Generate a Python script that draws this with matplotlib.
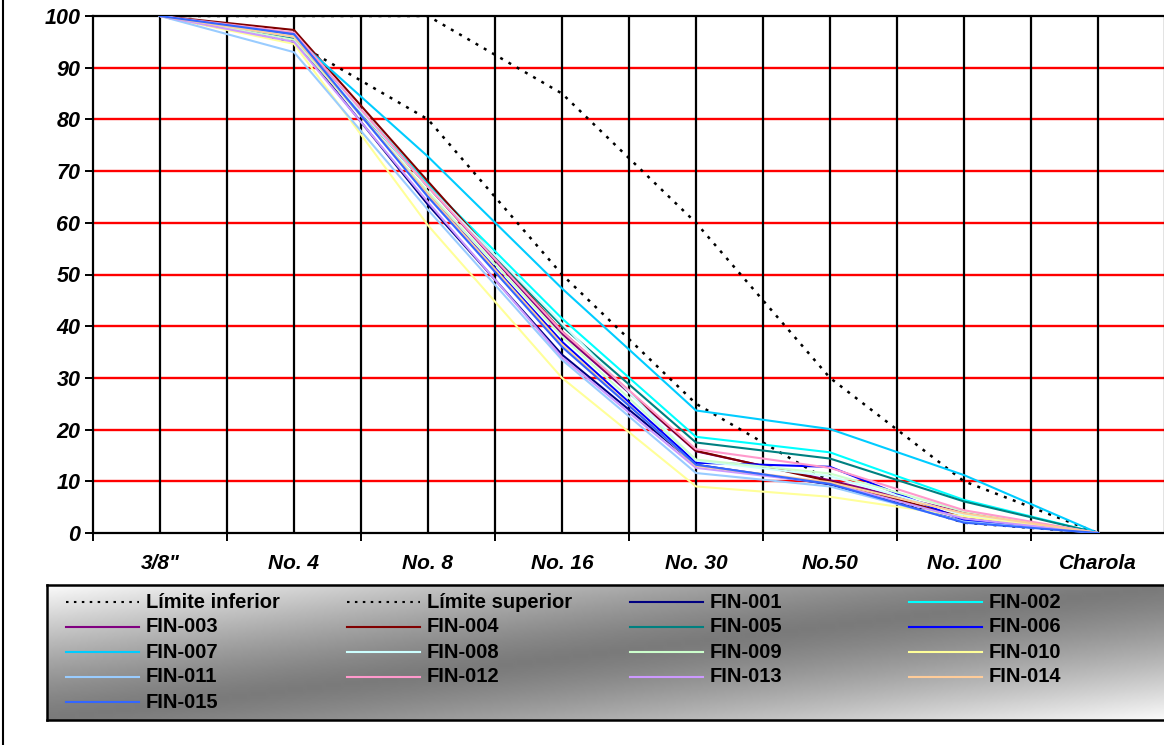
import numpy as np
import matplotlib
matplotlib.use('Agg')
import matplotlib.pyplot as plt
from matplotlib.lines import Line2D

plt.rcParams['font.family'] = ['Liberation Sans', 'DejaVu Sans']

# ---------------- data ----------------
categories = ['3/8"', 'No. 4', 'No. 8', 'No. 16', 'No. 30', 'No.50', 'No. 100', 'Charola']
y_ticks = [0, 10, 20, 30, 40, 50, 60, 70, 80, 90, 100]

limite_inferior = [100, 95, 80, 50, 25, 10, 2, 0]
limite_superior = [100, 100, 100, 85, 60, 30, 10, 0]

fin_001 = [100, 95.5, 63.5, 34.5, 13.2, 9.4, 2.2, 0]
fin_002 = [100, 96.0, 67.5, 41.5, 18.6, 15.6, 6.4, 0]
fin_003 = [100, 96.5, 67.0, 38.5, 15.8, 10.2, 3.9, 0]
fin_004 = [100, 97.3, 68.0, 39.0, 15.9, 10.0, 3.0, 0]
fin_005 = [100, 95.8, 67.0, 40.0, 17.5, 14.4, 6.1, 0]
fin_006 = [100, 96.0, 65.5, 37.0, 13.6, 12.8, 2.5, 0]
fin_007 = [100, 96.0, 72.8, 47.3, 23.7, 20.1, 11.2, 0]
fin_008 = [100, 96.0, 67.0, 40.5, 14.0, 11.0, 3.5, 0]
fin_009 = [100, 95.4, 66.0, 38.0, 14.2, 11.5, 4.2, 0]
fin_010 = [100, 94.6, 59.5, 30.0, 9.0, 7.0, 3.2, 0]
fin_011 = [100, 93.0, 62.5, 33.5, 11.6, 9.0, 2.2, 0]
fin_012 = [100, 96.8, 67.0, 39.0, 16.2, 12.6, 4.4, 0]
fin_013 = [100, 95.0, 64.0, 34.0, 12.6, 9.6, 2.8, 0]
fin_014 = [100, 96.0, 65.5, 36.5, 13.0, 9.8, 3.8, 0]
fin_015 = [100, 96.5, 65.0, 36.0, 13.2, 9.5, 2.0, 0]

series_names = ['FIN-001', 'FIN-002', 'FIN-003', 'FIN-004', 'FIN-005', 'FIN-006', 'FIN-007',
                'FIN-008', 'FIN-009', 'FIN-010', 'FIN-011', 'FIN-012', 'FIN-013', 'FIN-014', 'FIN-015']
series_values = [fin_001, fin_002, fin_003, fin_004, fin_005, fin_006, fin_007, fin_008,
                 fin_009, fin_010, fin_011, fin_012, fin_013, fin_014, fin_015]
series_colors = ['#000080', '#00FFFF', '#800080', '#800000', '#008080', '#0000FF', '#00CCFF',
                 '#CCFFFF', '#CCFFCC', '#FFFF99', '#99CCFF', '#FF99CC', '#CC99FF', '#FFCC99', '#3366FF']

# ---------------- figure ----------------
W, H = 1164, 745
fig = plt.figure(figsize=(W / 100, H / 100), dpi=100)
fig.patch.set_facecolor('white')

ax_l, ax_r, ax_t, ax_b = 93, 1165, 16, 533
ax = fig.add_axes([ax_l / W, 1 - ax_b / H, (ax_r - ax_l) / W, (ax_b - ax_t) / H])
x = np.arange(len(categories))
ax.set_xlim(-0.5, len(categories) - 0.5)
ax.set_ylim(0, 100)

# grid
for yv in y_ticks[1:-1]:
    ax.axhline(yv, color='#FF0000', lw=1.7, zorder=1)
for xv in np.arange(0, len(categories) - 0.25, 0.5):
    ax.axvline(xv, color='black', lw=1.6, zorder=1)

for s in ax.spines.values():
    s.set_color('black')
    s.set_linewidth(1.6)
ax.spines['right'].set_visible(False)

# limits
dotted = (0, (1.2, 2.6))
ax.plot(x, limite_inferior, color='black', lw=1.8, linestyle=dotted, zorder=3)
ax.plot(x, limite_superior, color='black', lw=1.8, linestyle=dotted, zorder=3)
for vals, c in zip(series_values, series_colors):
    ax.plot(x, vals, color=c, lw=1.5, zorder=4)

ax.set_yticks(y_ticks)
ax.set_yticklabels([str(v) for v in y_ticks], fontsize=15.5, fontweight='bold', fontstyle='italic')
ax.tick_params(axis='y', length=6, width=1.4, pad=3)

ax.set_xticks(x)
ax.set_xticklabels(categories, fontsize=15, fontweight='bold', fontstyle='italic')
ax.set_xticks(np.arange(-0.5, len(categories), 1.0), minor=True)
ax.tick_params(axis='x', which='major', length=0, pad=15)
ax.tick_params(axis='x', which='minor', length=6, width=1.4)

# ---------------- legend ----------------
lg_l, lg_r, lg_t, lg_b = 47, 1170, 585, 720
lax = fig.add_axes([lg_l / W, 1 - lg_b / H, (lg_r - lg_l) / W, (lg_b - lg_t) / H])
lax.set_xlim(lg_l, lg_r)
lax.set_ylim(lg_b, lg_t)
u = np.linspace(0, 1, 300)
v = np.linspace(0, 1, 60)
t = (u[None, :] + v[:, None]) / 2.0
grad = 0.48 + 0.50 * np.abs(2 * t - 1) ** 1.3
lax.imshow(grad, cmap='gray', vmin=0, vmax=1, aspect='auto',
           extent=[lg_l, lg_r, lg_b, lg_t], interpolation='bilinear', zorder=0)
lax.set_xticks([])
lax.set_yticks([])
for s in lax.spines.values():
    s.set_color('black')
    s.set_linewidth(1.8)

legend_labels = ['Límite inferior', 'Límite superior'] + series_names
legend_styles = [('black', dotted, 1.5), ('black', dotted, 1.5)] + [(c, '-', 1.5) for c in series_colors]
col_x = [66, 347, 630, 909]
row_y = [602, 627, 652, 677, 702]
line_len = 73
for i, (lab, (c, ls, lw)) in enumerate(zip(legend_labels, legend_styles)):
    r, col = divmod(i, 4)
    x0 = col_x[col]
    y0 = row_y[r]
    lax.add_line(Line2D([x0, x0 + line_len], [y0, y0], color=c, linestyle=ls, lw=lw, zorder=2))
    lax.text(x0 + line_len + 7, y0, lab, fontsize=14.5, fontweight='bold', va='center', ha='left', zorder=3)

# outer chart border (left edge)
fig.add_artist(Line2D([3 / W, 3 / W], [0, 1], transform=fig.transFigure, color='black', lw=1.5))

fig.savefig('out.png', dpi=100)
